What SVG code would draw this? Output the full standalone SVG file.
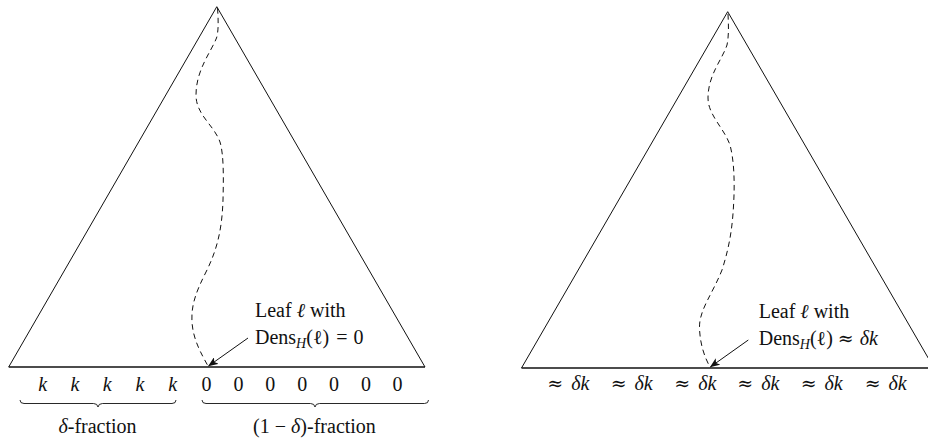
<svg xmlns="http://www.w3.org/2000/svg" width="928" height="441" viewBox="0 0 928 441">
<style>
  text { font-family: "Liberation Serif", "Times New Roman", serif; font-size: 20px; fill: #111; }
  .it { font-style: italic; }
  .sub { font-style: italic; font-size: 14px; }
  .rel { font-family: "DejaVu Serif", "Liberation Serif", serif; font-size: 19px; }
  .side { fill: none; stroke: #111; stroke-width: 1; }
  .base { fill: none; stroke: #111; stroke-width: 1.6; }
  .path { fill: none; stroke: #111; stroke-width: 1; stroke-dasharray: 5.5 4; }
  .brace { fill: none; stroke: #111; stroke-width: 0.9; }
  .arrow { fill: none; stroke: #111; stroke-width: 1; marker-end: url(#ah); }
  .mid { text-anchor: middle; }
</style>
<defs>
  <marker id="ah" viewBox="0 0 10 8" refX="9.5" refY="4" markerWidth="10" markerHeight="8" markerUnits="userSpaceOnUse" orient="auto">
    <path d="M0,0 L10,4 L0,8 L2.5,4 Z" fill="#111"/>
  </marker>
</defs>
<rect width="928" height="441" fill="#fff"/>

<!-- Left tree -->
<g id="tree-left">
  <path class="side" d="M8.7,367 L216.8,6.7 L425,367"/>
  <path class="base" d="M8.7,367 L425,367"/>
  <path class="path" d="M217.5,8 C218.5,20 218.5,32 216.5,38 C211,52 196,70 196,95 C196,115 214,125 220,142 C224,155 223.5,180 223,200 C222,230 217,250 206,272 C196,292 191,305 192,322 C193,340 202,355 208,366"/>
</g>
<g id="leaf-label-left">
  <text x="255" y="316.5">Leaf <tspan class="it">ℓ</tspan> with</text>
  <text x="255" y="344">Dens<tspan class="sub" dy="3.5">H</tspan><tspan dy="-3.5">(ℓ)</tspan><tspan dx="2"> = </tspan><tspan dx="1">0</tspan></text>
</g>
<g id="values-left">
  <text class="it mid" x="42.7" y="391">k</text>
  <text class="it mid" x="75" y="391">k</text>
  <text class="it mid" x="107.3" y="391">k</text>
  <text class="it mid" x="140" y="391">k</text>
  <text class="it mid" x="172.7" y="391">k</text>
  <text class="mid" x="206.5" y="391">0</text>
  <text class="mid" x="238.4" y="391">0</text>
  <text class="mid" x="270.3" y="391">0</text>
  <text class="mid" x="302.2" y="391">0</text>
  <text class="mid" x="334.1" y="391">0</text>
  <text class="mid" x="366" y="391">0</text>
  <text class="mid" x="397.5" y="391">0</text>
</g>
<g id="brace-delta">
  <path class="brace" d="M20,400 Q20,403.5 24,403.5 L93.5,403.5 Q97.5,403.5 98,407 Q98.5,403.5 102.5,403.5 L172,403.5 Q176,403.5 176,400"/>
  <text class="mid" x="97.5" y="433"><tspan class="it">δ</tspan>-fraction</text>
</g>
<g id="brace-one-minus-delta">
  <path class="brace" d="M202,400 Q202,403.5 206,403.5 L310.5,403.5 Q314.5,403.5 315,407 Q315.5,403.5 319.5,403.5 L424.5,403.5 Q428.5,403.5 428.5,400"/>
  <text class="mid" x="314.5" y="433">(1 − <tspan class="it">δ</tspan>)-fraction</text>
</g>

<!-- Right tree -->
<g id="tree-right">
  <path class="side" d="M521.5,368 L727.7,11.7 L934,368"/>
  <path class="base" d="M521.5,368 L934,368"/>
  <path class="path" d="M728,14 C728.5,25 729,35 727,45 C722,60 708,75 708,98 C708,115 724,128 730,145 C734,160 734.5,180 734,195 C733,225 730,245 722,270 C712,295 699,310 699.5,328 C700,345 705,358 710,367"/>
</g>
<g id="leaf-label-right">
  <text x="758.7" y="318">Leaf <tspan class="it">ℓ</tspan> with</text>
  <text x="758.7" y="345">Dens<tspan class="sub" dy="3.5">H</tspan><tspan dy="-3.5">(ℓ) </tspan><tspan class="rel">≈</tspan> <tspan class="it" dx="1">δk</tspan></text>
</g>
<g id="values-right">
  <text class="mid" x="568.3" y="390"><tspan class="rel">≈</tspan> <tspan class="it" dx="3">δk</tspan></text>
  <text class="mid" x="631.7" y="390"><tspan class="rel">≈</tspan> <tspan class="it" dx="3">δk</tspan></text>
  <text class="mid" x="695.3" y="390"><tspan class="rel">≈</tspan> <tspan class="it" dx="3">δk</tspan></text>
  <text class="mid" x="758.3" y="390"><tspan class="rel">≈</tspan> <tspan class="it" dx="3">δk</tspan></text>
  <text class="mid" x="821.7" y="390"><tspan class="rel">≈</tspan> <tspan class="it" dx="3">δk</tspan></text>
  <text class="mid" x="885.7" y="390"><tspan class="rel">≈</tspan> <tspan class="it" dx="3">δk</tspan></text>
</g>

<!-- Connectors -->
<g id="connectors">
  <path class="arrow" d="M248,338 L208.5,366"/>
  <path class="arrow" d="M748.3,340 L710.3,367"/>
</g>
</svg>
